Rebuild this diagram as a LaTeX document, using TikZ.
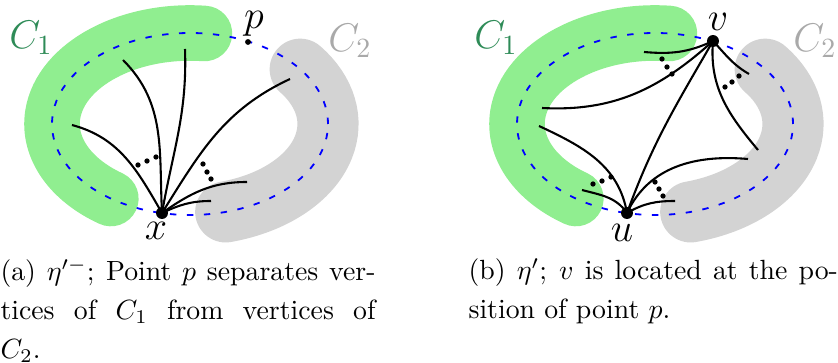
\documentclass[tikz,border=0pt]{standalone}
\usepackage{tikz}
\usetikzlibrary{positioning}
\definecolor{blobgreen}{HTML}{90EE90}
\definecolor{labelgreen}{HTML}{2E8B57}
\definecolor{blobgray}{HTML}{D3D3D3}
\definecolor{labelgray}{HTML}{A9A9A9}
\tikzset{
  band/.style={line cap=round,line width=20pt},
  greenband/.style={band,draw=blobgreen},
  grayband/.style={band,draw=blobgray,line width=22pt},
  cycleline/.style={draw=blue,line width=0.65pt,dash pattern=on 2.3pt off 3.8pt},
  vtx/.style={circle,fill=black,inner sep=0pt,minimum size=4.3pt},
  pnt/.style={circle,fill=black,inner sep=0pt,minimum size=2.1pt},
  edge/.style={line width=0.75pt},
  vlabel/.style={font=\Large,inner sep=0pt},
  clabel/.style={font=\Large,inner sep=0pt},
  caption/.style={font=\fontsize{10}{14}\selectfont,align=justify,inner sep=0pt,anchor=north west}
}
\begin{document}
\begin{tikzpicture}[x=0.36pt,y=0.36pt]
  \useasboundingbox (0,0) rectangle (838,363);

  % (a) the two clusters round the cycle
  \coordinate (oa) at (190,239);
  \draw[greenband] ([shift={(84:138 and 91)}]oa) arc[start angle=84,end angle=235,x radius=138,y radius=91];
  \draw[grayband] ([shift={(-75:138 and 91)}]oa) arc[start angle=-75,end angle=37,x radius=138,y radius=91];
  \draw[cycleline] (oa) ellipse[x radius=138,y radius=91];
  \node[clabel,text=labelgreen] (c1a) at (31,325) {$C_1$};
  \node[clabel,text=labelgray] (c2a) at (350,322) {$C_2$};

  \node[pnt] (p) at (248,321) {};
  \node[vlabel] (plabel) at (254,339) {$p$};
  \node[vtx] (x) at (162,150) {};
  \node[vlabel] (xlabel) at (156,132) {$x$};

  \coordinate (xa1) at (72,238);
  \coordinate (xa2) at (123,303);
  \coordinate (xa3) at (185,314);
  \coordinate (xa4) at (290,284);
  \coordinate (xa5) at (247,181);
  \coordinate (xa6) at (211,162);
  \draw[edge] (x.center) to[out=120,in=-15] (xa1);
  \draw[edge] (x.center) to[out=93,in=-45] (xa2);
  \draw[edge] (x.center) to[out=80,in=-88] (xa3);
  \draw[edge] (x.center) to[out=58,in=-155] (xa4);
  \draw[edge] (x.center) to[out=35,in=180] (xa5);
  \draw[edge] (x.center) to[out=25,in=180] (xa6);
  \foreach \px/\py in {138/198,147/202,156/206,203/199,207/191,211/184}
    \fill (\px,\py) circle (0.95pt);

  % (b) v put on the place of p
  \coordinate (ob) at (655,239);
  \draw[greenband] ([shift={(84:138 and 91)}]ob) arc[start angle=84,end angle=235,x radius=138,y radius=91];
  \draw[grayband] ([shift={(-75:138 and 91)}]ob) arc[start angle=-75,end angle=37,x radius=138,y radius=91];
  \draw[cycleline] (ob) ellipse[x radius=138,y radius=91];
  \node[clabel,text=labelgreen] (c1b) at (496,325) {$C_1$};
  \node[clabel,text=labelgray] (c2b) at (815,322) {$C_2$};

  \node[vtx] (v) at (713,322) {};
  \node[vlabel] (vlabel) at (718,341) {$v$};
  \node[vtx] (u) at (627,150) {};
  \node[vlabel] (ulabel) at (622,130) {$u$};

  \coordinate (va1) at (644,311);
  \coordinate (va2) at (542,255);
  \coordinate (va4) at (749,289);
  \coordinate (va5) at (758,213);
  \coordinate (ub1) at (582,173);
  \coordinate (ub2) at (539,237);
  \coordinate (ub3) at (748,204);
  \coordinate (ub4) at (675,162);
  \draw[edge] (v.center) to[out=205,in=-5] (va1);
  \draw[edge] (v.center) to[out=222,in=-3] (va2);
  \draw[edge] (v.center) to[out=-47,in=150] (va4);
  \draw[edge] (v.center) to[out=-95,in=130] (va5);
  \draw[edge] (u.center) to[out=70,in=240] (v.center);
  \draw[edge] (u.center) to[out=125,in=-15] (ub1);
  \draw[edge] (u.center) to[out=100,in=-25] (ub2);
  \draw[edge] (u.center) to[out=65,in=175] (ub3);
  \draw[edge] (u.center) to[out=30,in=180] (ub4);
  \foreach \px/\py in {662/304,667/296,672/289,725/276,732/281,739/287,593/179,602/182,611/186,655/181,659/174,663/167}
    \fill (\px,\py) circle (0.95pt);

  % captions
  \node[caption,text width=135pt] (capa) at (0,105)
    {(a) $\eta'^-$; Point $p$ separates ver-\linebreak tices of $C_1$ from vertices of\linebreak $C_2$.};
  \node[caption,text width=133pt] (capb) at (468,105)
    {(b) $\eta'$; $v$ is located at the po-\linebreak sition of point $p$.};
\end{tikzpicture}
\end{document}
